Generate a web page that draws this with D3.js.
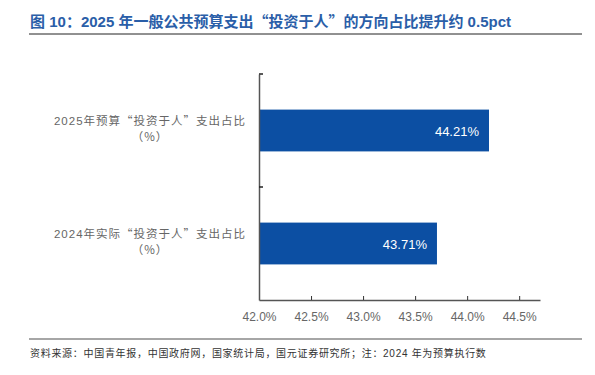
<!DOCTYPE html>
<html>
<head>
<meta charset="utf-8">
<script src="https://cdn.jsdelivr.net/npm/d3@7"></script>
<style>
  body { margin: 0; background: #fff; }
  svg { display: block; font-family: "Liberation Sans", "Noto Sans CJK SC", sans-serif; }
</style>
</head>
<body>
<svg width="595" height="375"></svg>
<script>
// 数据
var categories = ["2025年预算“投资于人”支出占比", "2024年实际“投资于人”支出占比"];
var values = [44.21, 43.71];
var xTicks = [42.0, 42.5, 43.0, 43.5, 44.0, 44.5];

var svg = d3.select("svg");

// 拉丁字符用 Liberation Sans，中文和全角标点用 Noto Sans CJK
function mixed(sel, str) {
  var runs = str.match(/[\x00-\x7f]+|[^\x00-\x7f]+/g) || [];
  runs.forEach(function(r) {
    sel.append("tspan")
      .attr("font-family", /^[\x00-\x7f]/.test(r) ? "'Liberation Sans', sans-serif" : "'Noto Sans CJK SC', sans-serif")
      .text(r);
  });
}

// 标题
var title = svg.append("text")
  .attr("x", 30).attr("y", 27)
  .attr("font-size", 15).attr("font-weight", "bold")
  .attr("fill", "#2a5ea8");
mixed(title, "图 10：2025 年一般公共预算支出“投资于人”的方向占比提升约 0.5pct");

svg.append("line")
  .attr("x1", 29).attr("x2", 582).attr("y1", 34).attr("y2", 34)
  .attr("stroke", "#222").attr("stroke-width", 1);

var x = d3.scaleLinear().domain([42, 44.7]).range([259, 540]);
var y = d3.scaleBand().domain(categories).range([74, 300]).paddingInner(0.63).paddingOuter(0.315);

// 柱子
svg.selectAll("rect.bar")
  .data(values)
  .enter().append("rect")
    .attr("class", "bar")
    .attr("x", x(42))
    .attr("y", function(d, i) { return y(categories[i]); })
    .attr("width", function(d) { return x(d) - x(42); })
    .attr("height", y.bandwidth())
    .style("fill", "#0c4fa3");

// 数值标签
svg.selectAll("text.val")
  .data(values)
  .enter().append("text")
    .attr("class", "val")
    .attr("x", function(d) { return x(d) - 10; })
    .attr("y", function(d, i) { return y(categories[i]) + y.bandwidth() / 2 + 5; })
    .attr("text-anchor", "end")
    .attr("font-size", 13)
    .attr("fill", "#fff")
    .text(function(d) { return d.toFixed(2) + "%"; });

// x 轴
var xAxis = svg.append("g")
  .attr("transform", "translate(0,300)")
  .call(d3.axisBottom(x).tickValues(xTicks).tickSizeInner(-4).tickSizeOuter(0)
    .tickFormat(function(d) { return d.toFixed(1) + "%"; }));
xAxis.select(".domain").attr("stroke", "#555").attr("stroke-width", 1.5);
xAxis.selectAll(".tick line").attr("stroke", "#333");
xAxis.selectAll(".tick text")
  .attr("y", 12).attr("font-size", 12).attr("fill", "#666")
  .attr("font-family", "'Liberation Sans', sans-serif");

// y 轴
var yAxis = svg.append("g")
  .attr("transform", "translate(259,0)")
  .call(d3.axisLeft(y).tickSize(0).tickFormat(""));
yAxis.select(".domain").attr("stroke", "#555").attr("stroke-width", 1.5);
yAxis.selectAll(".tick").remove();
[74, 187].forEach(function(v) {
  svg.append("line").attr("x1", 259).attr("x2", 263).attr("y1", v).attr("y2", v)
    .attr("stroke", "#222").attr("stroke-width", 1.5);
});

// 类别标签
categories.forEach(function(c) {
  var t = svg.append("text")
    .attr("text-anchor", "middle")
    .attr("font-size", 11.5)
    .attr("letter-spacing", 1)
    .attr("fill", "#666");
  var l1 = t.append("tspan").attr("x", 150).attr("y", y(c) + y.bandwidth() / 2 - 6);
  mixed(l1, c);
  t.append("tspan").attr("x", 150).attr("dy", 16)
    .attr("font-family", "'Noto Sans CJK SC', sans-serif").text("（%）");
});

// 底部
svg.append("line")
  .attr("x1", 29).attr("x2", 582).attr("y1", 339).attr("y2", 339)
  .attr("stroke", "#888").attr("stroke-width", 1.5);

var src = svg.append("text")
  .attr("x", 30).attr("y", 357)
  .attr("font-size", 10).attr("letter-spacing", 0.7).attr("fill", "#333");
mixed(src, "资料来源：中国青年报，中国政府网，国家统计局，国元证券研究所；注：2024 年为预算执行数");
</script>
</body>
</html>
